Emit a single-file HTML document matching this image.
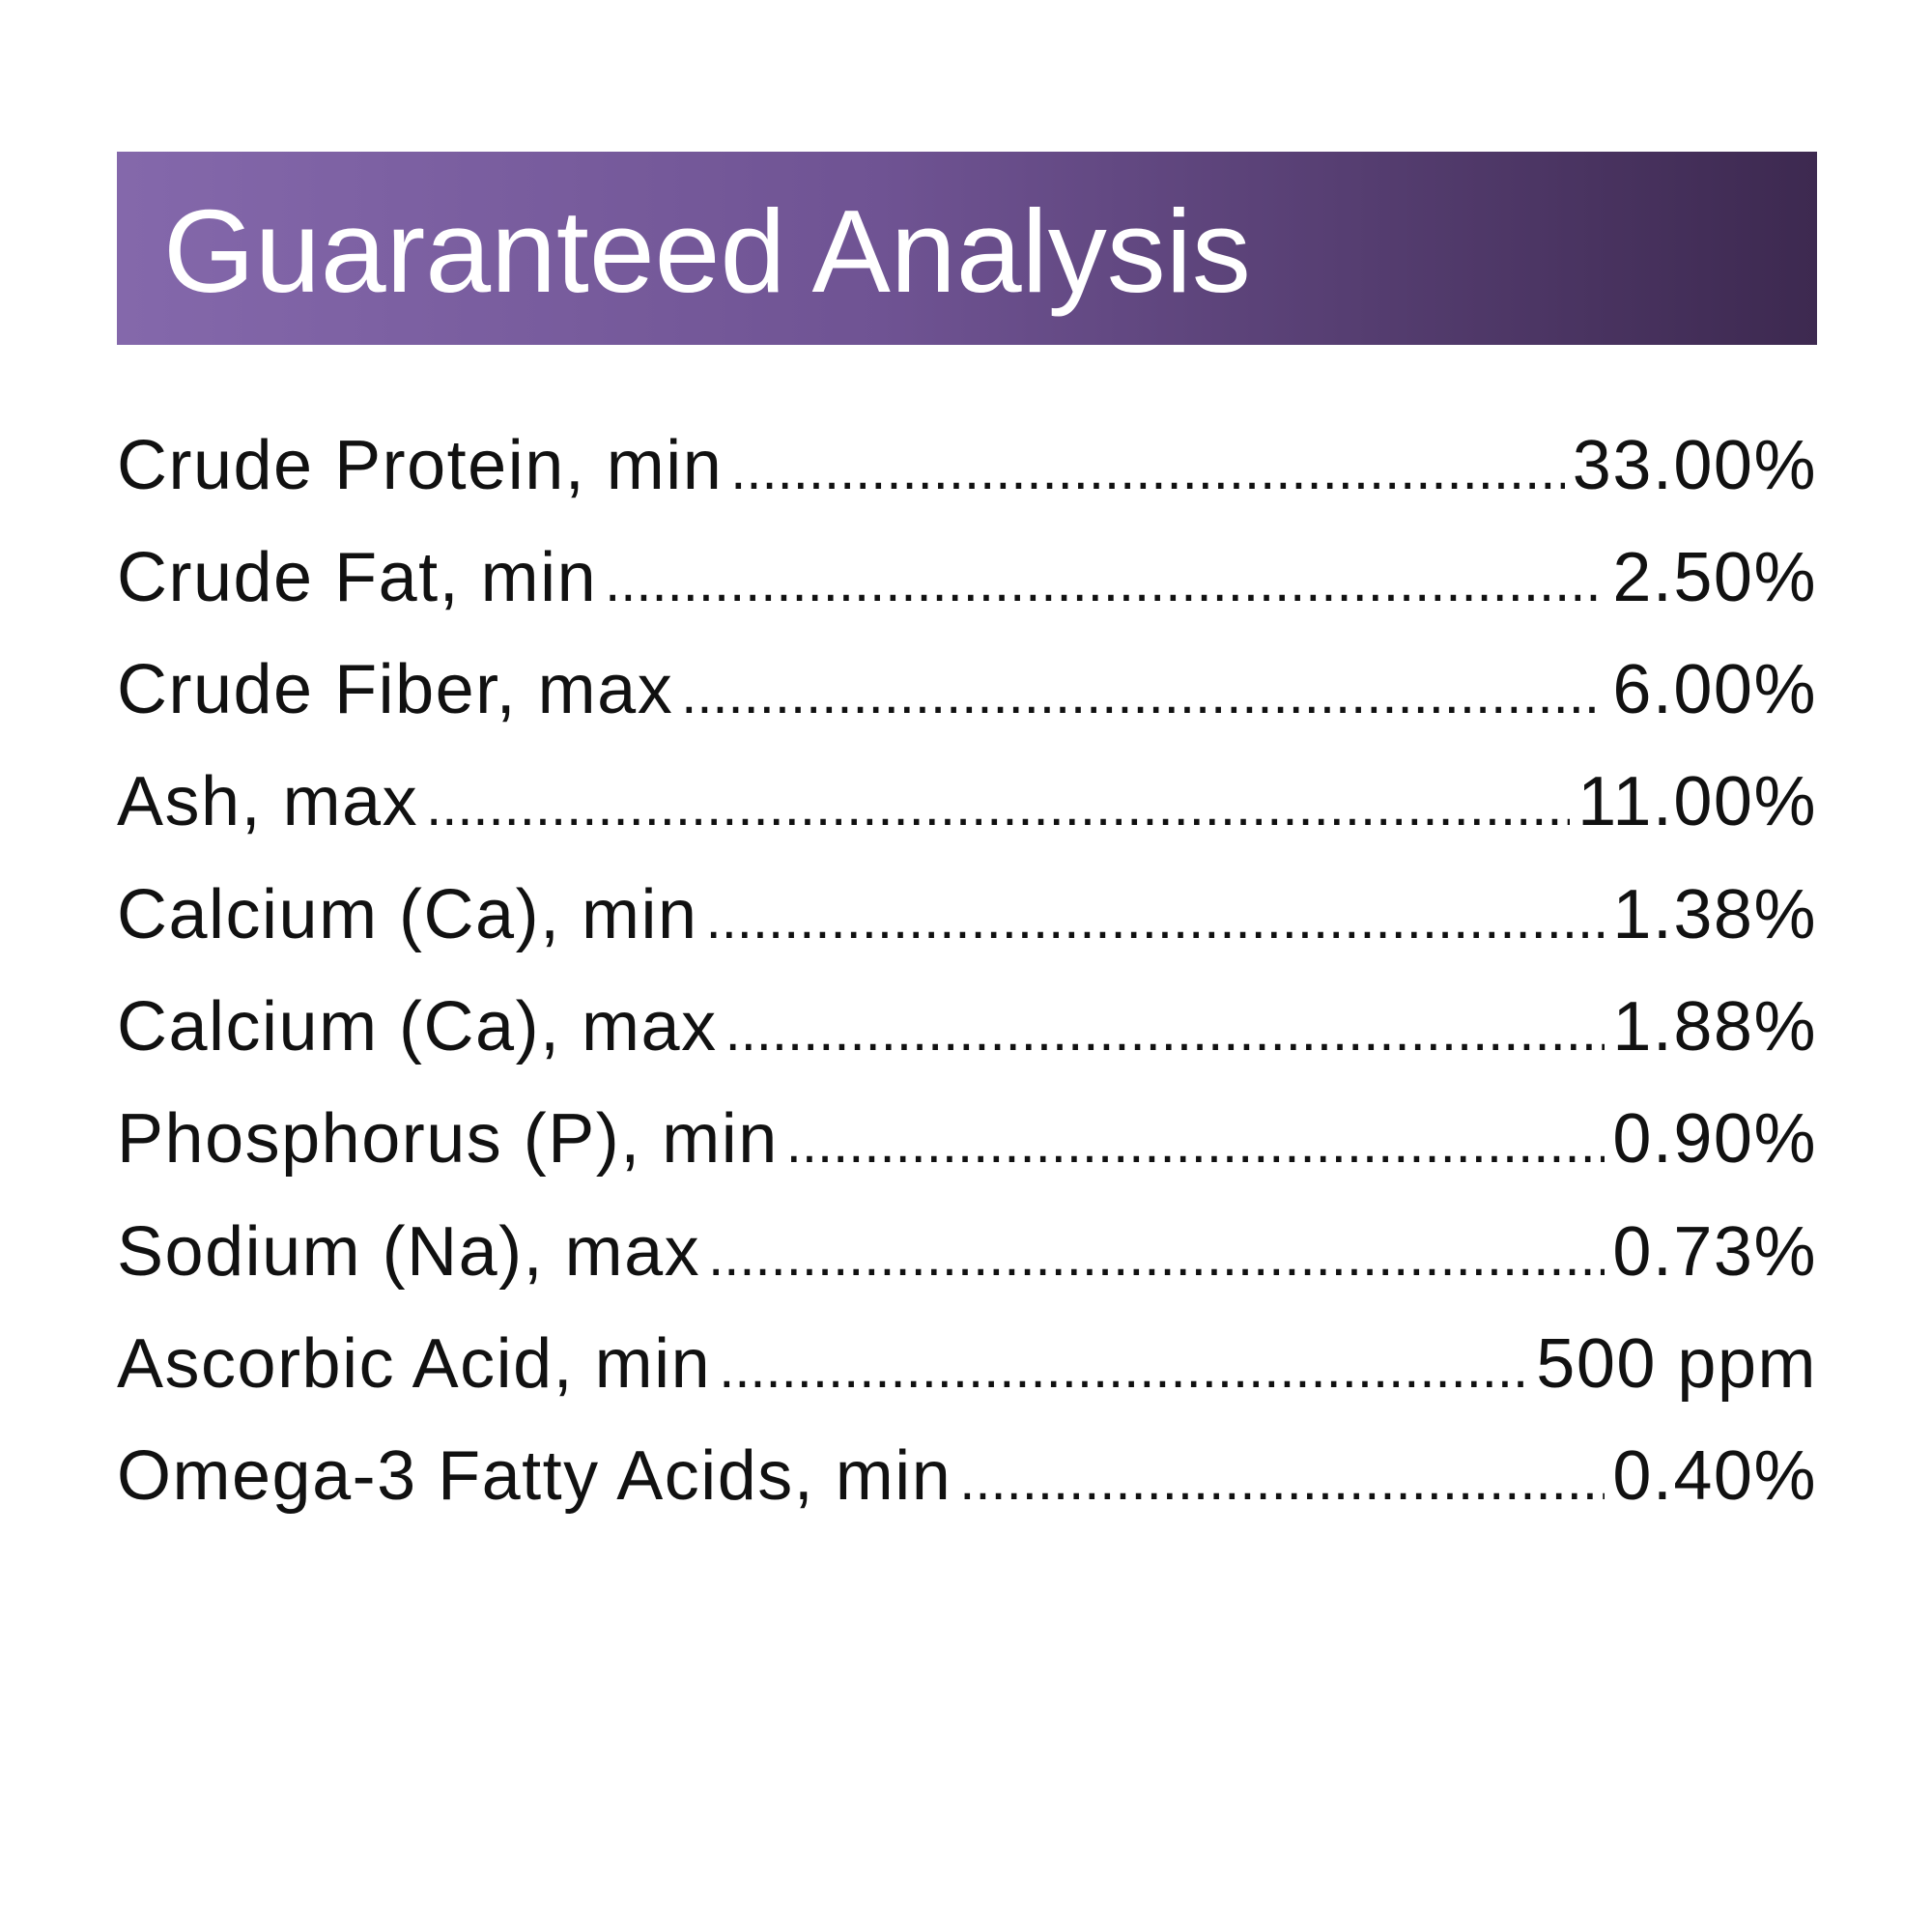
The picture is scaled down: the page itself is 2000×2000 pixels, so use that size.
<!DOCTYPE html>
<html><head><meta charset="utf-8"><style>
html,body{margin:0;padding:0;background:#fff;}
body{width:2000px;height:2000px;position:relative;overflow:hidden;font-family:"Liberation Sans",sans-serif;color:#111;}
.hdr{position:absolute;left:121px;top:157px;width:1760px;height:200px;background:linear-gradient(90deg,#8468ab 0%,#6f5393 45%,#3d2950 100%);}
.hdr span{position:absolute;left:48px;top:42px;font-size:122px;color:#fff;line-height:1;letter-spacing:0px;}
.row{position:absolute;left:121px;width:1760px;display:flex;align-items:baseline;font-size:72px;line-height:1;letter-spacing:1.5px;}
.row .l{white-space:nowrap;}
.row .d{flex:1;overflow:hidden;white-space:nowrap;font-size:58px;letter-spacing:0px;margin:0 8px;}
.row .v{white-space:nowrap;}
</style></head><body>
<div class="hdr"><span>Guaranteed Analysis</span></div>
<div class="row" style="top:446px"><span class="l">Crude Protein, min</span><span class="d">........................................................................................................................</span><span class="v">33.00%</span></div>
<div class="row" style="top:562px"><span class="l">Crude Fat, min</span><span class="d">........................................................................................................................</span><span class="v">2.50%</span></div>
<div class="row" style="top:678px"><span class="l">Crude Fiber, max</span><span class="d">........................................................................................................................</span><span class="v">6.00%</span></div>
<div class="row" style="top:794px"><span class="l">Ash, max</span><span class="d">........................................................................................................................</span><span class="v">11.00%</span></div>
<div class="row" style="top:911px"><span class="l">Calcium (Ca), min</span><span class="d">........................................................................................................................</span><span class="v">1.38%</span></div>
<div class="row" style="top:1027px"><span class="l">Calcium (Ca), max</span><span class="d">........................................................................................................................</span><span class="v">1.88%</span></div>
<div class="row" style="top:1143px"><span class="l">Phosphorus (P), min</span><span class="d">........................................................................................................................</span><span class="v">0.90%</span></div>
<div class="row" style="top:1260px"><span class="l">Sodium (Na), max</span><span class="d">........................................................................................................................</span><span class="v">0.73%</span></div>
<div class="row" style="top:1376px"><span class="l">Ascorbic Acid, min</span><span class="d">........................................................................................................................</span><span class="v">500 ppm</span></div>
<div class="row" style="top:1492px"><span class="l">Omega-3 Fatty Acids, min</span><span class="d">........................................................................................................................</span><span class="v">0.40%</span></div>
</body></html>
